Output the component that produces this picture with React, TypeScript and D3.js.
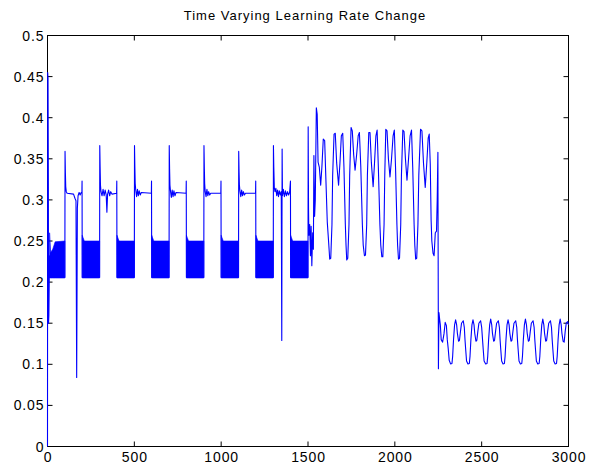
import React from "react";
import * as d3 from "d3";

const W = 601;
const H = 468;

const titleText = "Time Varying Learning Rate Change";
const xTicks = [0, 500, 1000, 1500, 2000, 2500, 3000];
const xTickLabels = ["0", "500", "1000", "1500", "2000", "2500", "3000"];
const yTicks = [0, 0.05, 0.1, 0.15, 0.2, 0.25, 0.3, 0.35, 0.4, 0.45, 0.5];
const yTickLabels = ["0", "0.05", "0.1", "0.15", "0.2", "0.25", "0.3", "0.35", "0.4", "0.45", "0.5"];

// Dense fast-oscillation bands (x, top envelope, bottom envelope)
const bands: [number, number, number][][] = [
  [[12, 0.26, 0.205], [18, 0.236, 0.205], [30, 0.24, 0.205], [44, 0.249, 0.205], [100, 0.25, 0.205]],
  [[200, 0.257, 0.205], [205, 0.254, 0.205], [212, 0.25, 0.205], [300, 0.25, 0.205]],
  [[400, 0.257, 0.205], [405, 0.254, 0.205], [412, 0.25, 0.205], [500, 0.25, 0.205]],
  [[600, 0.257, 0.205], [605, 0.254, 0.205], [612, 0.25, 0.205], [700, 0.25, 0.205]],
  [[800, 0.257, 0.205], [805, 0.254, 0.205], [812, 0.25, 0.205], [900, 0.25, 0.205]],
  [[1000, 0.257, 0.205], [1005, 0.254, 0.205], [1012, 0.25, 0.205], [1100, 0.25, 0.205]],
  [[1200, 0.257, 0.205], [1205, 0.254, 0.205], [1212, 0.25, 0.205], [1300, 0.25, 0.205]],
  [[1400, 0.257, 0.205], [1405, 0.254, 0.205], [1412, 0.25, 0.205], [1500, 0.25, 0.205]],
];

// Phase 1: alternating plateau / band regime (0 - 1500)
const phase1: [number, number][] = [
  [0, 0], [1, 0.455], [3, 0.448], [5, 0.32], [6, 0.15], [8, 0.16], [10, 0.2], [12, 0.232], [14, 0.206], [100, 0.206],
  [101, 0.359], [103, 0.333], [105, 0.316], [108, 0.31], [113, 0.308], [150, 0.307], [158, 0.302], [164, 0.299],
  [168, 0.084], [172, 0.29], [176, 0.305], [182, 0.309], [188, 0.306], [194, 0.309], [198, 0.309], [199, 0.323],
  [200, 0.206], [300, 0.206],
  [301, 0.366], [303, 0.34], [305, 0.318], [308, 0.31], [314, 0.305], [320, 0.313], [326, 0.305], [332, 0.312],
  [338, 0.306], [342, 0.285], [346, 0.307], [352, 0.312], [358, 0.305], [364, 0.31], [372, 0.307], [398, 0.308],
  [399, 0.323], [400, 0.206], [500, 0.206],
  [501, 0.366], [503, 0.34], [505, 0.32], [508, 0.312], [513, 0.304], [518, 0.313], [523, 0.305], [528, 0.311],
  [534, 0.306], [540, 0.309], [598, 0.308], [599, 0.323], [600, 0.206], [700, 0.206],
  [701, 0.366], [703, 0.338], [705, 0.318], [708, 0.311], [713, 0.303], [718, 0.312], [723, 0.304], [728, 0.311],
  [734, 0.305], [740, 0.309], [798, 0.308], [799, 0.323], [800, 0.206], [900, 0.206],
  [901, 0.366], [903, 0.34], [905, 0.32], [908, 0.31], [913, 0.304], [918, 0.313], [923, 0.305], [928, 0.31],
  [934, 0.306], [940, 0.308], [998, 0.308], [999, 0.323], [1000, 0.206], [1100, 0.206],
  [1101, 0.359], [1103, 0.335], [1105, 0.318], [1108, 0.311], [1113, 0.304], [1118, 0.312], [1123, 0.305],
  [1128, 0.31], [1134, 0.306], [1140, 0.308], [1198, 0.308], [1199, 0.323], [1200, 0.206], [1300, 0.206],
  [1301, 0.366], [1303, 0.34], [1306, 0.315], [1310, 0.31], [1315, 0.314], [1320, 0.305], [1325, 0.312],
  [1330, 0.304], [1335, 0.311], [1341, 0.306], [1346, 0.31], [1349, 0.129], [1351, 0.362], [1353, 0.305],
  [1358, 0.313], [1364, 0.304], [1370, 0.311], [1376, 0.305], [1382, 0.31], [1388, 0.306], [1394, 0.309],
  [1399, 0.323], [1400, 0.206], [1500, 0.206],
];

// Phase 2: large double-peaked oscillation (1500 - 2250)
const phase2: [number, number][] = [
  [1501, 0.389], [1503, 0.29], [1505, 0.257], [1510, 0.27], [1514, 0.232], [1518, 0.268], [1522, 0.22],
  [1527, 0.26], [1531, 0.24], [1534, 0.354], [1538, 0.28], [1542, 0.3], [1548, 0.412], [1553, 0.404],
  [1558, 0.346], [1565, 0.34], [1573, 0.318], [1580, 0.34], [1588, 0.374], [1596, 0.372], [1603, 0.325],
  [1611, 0.273], [1619, 0.248], [1625, 0.228],
  [1631, 0.229], [1638, 0.27], [1642, 0.33], [1650, 0.38], [1657, 0.381], [1665, 0.345], [1676, 0.318],
  [1684, 0.345], [1692, 0.378], [1700, 0.381], [1707, 0.34], [1715, 0.27], [1719, 0.245], [1723, 0.227],
  [1729, 0.229], [1736, 0.27], [1740, 0.33], [1748, 0.388], [1755, 0.384], [1763, 0.355], [1771, 0.336],
  [1780, 0.355], [1789, 0.378], [1796, 0.382], [1804, 0.34], [1813, 0.27], [1818, 0.245], [1825, 0.232],
  [1831, 0.233], [1838, 0.27], [1842, 0.33], [1850, 0.382], [1857, 0.382], [1865, 0.345], [1875, 0.316],
  [1883, 0.345], [1891, 0.378], [1898, 0.385], [1905, 0.34], [1914, 0.27], [1919, 0.245], [1925, 0.231],
  [1931, 0.231], [1938, 0.27], [1942, 0.33], [1948, 0.386], [1955, 0.384], [1963, 0.35], [1972, 0.328],
  [1981, 0.35], [1990, 0.378], [1997, 0.385], [2004, 0.34], [2012, 0.27], [2016, 0.245], [2021, 0.228],
  [2027, 0.229], [2034, 0.27], [2038, 0.33], [2046, 0.385], [2053, 0.383], [2061, 0.35], [2070, 0.324],
  [2079, 0.35], [2088, 0.378], [2096, 0.385], [2103, 0.34], [2111, 0.27], [2115, 0.245], [2120, 0.228],
  [2126, 0.229], [2133, 0.27], [2138, 0.33], [2148, 0.386], [2156, 0.384], [2165, 0.345], [2175, 0.315],
  [2184, 0.345], [2192, 0.375], [2198, 0.38], [2204, 0.344], [2209, 0.275], [2213, 0.25], [2220, 0.235],
  [2226, 0.232], [2233, 0.26], [2240, 0.262], [2244, 0.3], [2248, 0.358],
];

// Phase 3: small double-peaked oscillation (2250 - 3000)
const phase3: [number, number][] = [
  [2251, 0.0945], [2254, 0.163], [2258, 0.155], [2262, 0.148], [2267, 0.13], [2275, 0.127], [2283, 0.137],
  [2290, 0.151], [2297, 0.147], [2302, 0.13], [2307, 0.12], [2313, 0.105], [2321, 0.1005],
  [2329, 0.101], [2333, 0.11], [2338, 0.13], [2344, 0.148], [2350, 0.154], [2356, 0.148], [2360, 0.138],
  [2367, 0.128], [2372, 0.129], [2378, 0.14], [2384, 0.15], [2394, 0.153], [2400, 0.145], [2404, 0.13],
  [2408, 0.118], [2413, 0.104], [2421, 0.1005],
  [2429, 0.101], [2433, 0.11], [2438, 0.13], [2444, 0.148], [2450, 0.154], [2456, 0.148], [2460, 0.138],
  [2467, 0.128], [2472, 0.129], [2478, 0.14], [2484, 0.15], [2494, 0.153], [2500, 0.145], [2505, 0.13],
  [2509, 0.118], [2514, 0.104], [2523, 0.1005],
  [2531, 0.101], [2535, 0.11], [2540, 0.13], [2546, 0.148], [2552, 0.155], [2558, 0.148], [2562, 0.138],
  [2569, 0.128], [2574, 0.129], [2580, 0.14], [2586, 0.15], [2596, 0.153], [2602, 0.145], [2606, 0.13],
  [2610, 0.118], [2615, 0.104], [2623, 0.1005],
  [2631, 0.101], [2635, 0.11], [2640, 0.13], [2646, 0.148], [2652, 0.154], [2658, 0.148], [2662, 0.138],
  [2669, 0.128], [2674, 0.129], [2680, 0.14], [2686, 0.15], [2696, 0.153], [2702, 0.145], [2706, 0.13],
  [2710, 0.118], [2715, 0.104], [2723, 0.1005],
  [2731, 0.101], [2735, 0.11], [2740, 0.13], [2746, 0.148], [2752, 0.155], [2758, 0.148], [2762, 0.138],
  [2769, 0.128], [2774, 0.129], [2780, 0.14], [2786, 0.15], [2796, 0.153], [2802, 0.145], [2806, 0.13],
  [2810, 0.118], [2815, 0.104], [2823, 0.1005],
  [2831, 0.101], [2835, 0.11], [2840, 0.13], [2846, 0.148], [2852, 0.155], [2858, 0.148], [2862, 0.138],
  [2869, 0.128], [2874, 0.129], [2880, 0.14], [2886, 0.15], [2896, 0.153], [2902, 0.145], [2906, 0.13],
  [2910, 0.118], [2915, 0.104], [2923, 0.1005],
  [2931, 0.101], [2935, 0.11], [2940, 0.13], [2946, 0.148], [2952, 0.155], [2958, 0.148], [2962, 0.138],
  [2969, 0.128], [2975, 0.127], [2981, 0.14], [2987, 0.15], [2995, 0.152], [3000, 0.148],
];

const FONT = "'Liberation Sans', Arial, Helvetica, sans-serif";

export default function App() {
  const x = d3.scaleLinear().domain([0, 3000]).range([47.5, 568.5]);
  const y = d3.scaleLinear().domain([0, 0.5]).range([446.5, 35.5]);

  const line = d3
    .line<[number, number]>()
    .x((d) => x(d[0]))
    .y((d) => y(d[1]));
  const area = d3
    .area<[number, number, number]>()
    .x((d) => x(d[0]))
    .y0((d) => y(d[2]))
    .y1((d) => y(d[1]));

  const trace = [...phase1, ...phase2, ...phase3];
  const [x0, x1] = x.range();
  const [y0, y1] = y.range();
  const tickLen = 5;

  return (
    <svg
      width={W}
      height={H}
      style={{ position: "absolute", left: 0, top: 0, background: "#fff" }}
      fontFamily={FONT}
    >
      <rect x={0} y={0} width={W} height={H} fill="#fff" />
      <text
        x={(x0 + x1) / 2 - 3}
        y={19.5}
        textAnchor="middle"
        fontSize={13}
        letterSpacing={1}
        fill="#000"
      >
        {titleText}
      </text>

      {/* axes box */}
      <rect x={x0} y={y1} width={x1 - x0} height={y0 - y1} fill="none" stroke="#000" strokeWidth={1} />

      {/* x ticks */}
      {xTicks.map((t, i) => (
        <g key={"xt" + i}>
          <line x1={x(t)} x2={x(t)} y1={y0} y2={y0 - tickLen} stroke="#000" strokeWidth={1} />
          <line x1={x(t)} x2={x(t)} y1={y1} y2={y1 + tickLen} stroke="#000" strokeWidth={1} />
          <text
            x={x(t) + 0.5}
            y={462}
            textAnchor="middle"
            fontSize={14}
            letterSpacing={0.9}
            fill="#000"
          >
            {xTickLabels[i]}
          </text>
        </g>
      ))}

      {/* y ticks */}
      {yTicks.map((t, i) => (
        <g key={"yt" + i}>
          <line x1={x0} x2={x0 + tickLen} y1={y(t)} y2={y(t)} stroke="#000" strokeWidth={1} />
          <line x1={x1} x2={x1 - tickLen} y1={y(t)} y2={y(t)} stroke="#000" strokeWidth={1} />
          <text
            x={44.5}
            y={y(t) + 5}
            textAnchor="end"
            fontSize={14}
            letterSpacing={0.9}
            fill="#000"
          >
            {yTickLabels[i]}
          </text>
        </g>
      ))}

      {/* data */}
      {bands.map((b, i) => (
        <path key={"b" + i} d={area(b) || ""} fill="#0000ff" stroke="#0000ff" strokeWidth={0.6} />
      ))}
      <path d={line(trace) || ""} fill="none" stroke="#0000ff" strokeWidth={1.1} strokeLinejoin="round" />
    </svg>
  );
}
